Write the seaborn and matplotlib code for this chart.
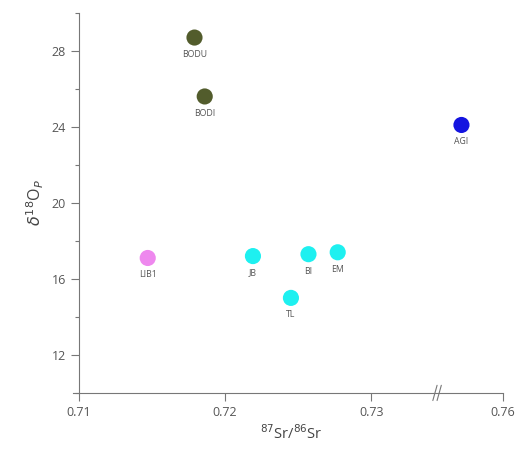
import matplotlib
matplotlib.use("Agg")
import matplotlib.pyplot as plt
import numpy as np
import pandas as pd
import seaborn as sns

sites = ["BODU", "BODI", "AGI", "LIB1", "JB", "BI", "EM", "TL"]
sr_ratio = [0.7179, 0.7186, 0.7423, 0.7147, 0.7219, 0.7257, 0.7277, 0.7245]
d18o = [28.7, 25.6, 24.1, 17.1, 17.2, 17.3, 17.4, 15.0]
groups = ["g1", "g1", "g2", "g3", "g4", "g4", "g4", "g4"]
group_colors = {"g1": "#525c2c", "g2": "#1414e0", "g3": "#ee88ee", "g4": "#1ef0f0"}
x_ticks = [0.71, 0.72, 0.73, 0.76]
y_ticks = [12, 16, 20, 24, 28]

BREAK = 0.735
K = 0.16

def fwd(x):
    x = np.asarray(x, dtype=float)
    return np.where(x <= BREAK, x, BREAK + (x - BREAK) * K)

def inv(x):
    x = np.asarray(x, dtype=float)
    return np.where(x <= BREAK, x, BREAK + (x - BREAK) / K)

df = pd.DataFrame({"site": sites, "sr": sr_ratio, "d18o": d18o, "group": groups})

sns.set_style("white")
plt.rcParams["font.family"] = ["Open Sans", "DejaVu Sans"]

fig = plt.figure(figsize=(5.2, 4.59), dpi=100)
ax = fig.add_axes([0.152, 0.144, 0.815, 0.828])
ax.set_xscale("function", functions=(fwd, inv))

sns.scatterplot(data=df, x="sr", y="d18o", hue="group", palette=group_colors,
                s=135, edgecolor="none", legend=False, ax=ax)

for s, x, y in zip(sites, sr_ratio, d18o):
    ax.annotate(s, (x, y), xytext=(0, -9), textcoords="offset points",
                ha="center", va="top", fontsize=6.3, color="#555555")

ax.set_xlim(0.71, 0.76)
ax.set_ylim(10, 30)
ax.set_xticks(x_ticks)
ax.set_xticklabels([f"{t:.2f}" for t in x_ticks])
ax.set_yticks(y_ticks)
ax.set_yticks([10, 14, 18, 22, 26, 30], minor=True)
ax.tick_params(axis="both", which="major", direction="out", length=6, width=0.8,
               color="#777777", labelcolor="#555555", labelsize=9, bottom=True, left=True)
ax.tick_params(axis="y", which="minor", direction="out", length=3, width=0.8,
               color="#777777", left=True)
ax.xaxis.set_minor_locator(matplotlib.ticker.NullLocator())

for side in ["top", "right"]:
    ax.spines[side].set_visible(False)
for side in ["left", "bottom"]:
    ax.spines[side].set_color("#777777")
    ax.spines[side].set_linewidth(0.8)
ax.spines["bottom"].set_bounds(0.7096, 0.76)

# axis break marks
bx = fwd(0.7345)
bx_ax = (bx - 0.71) / (fwd(0.76) - 0.71)
for dx in (-0.005, 0.005):
    ax.plot([bx_ax + dx - 0.005, bx_ax + dx + 0.005], [-0.02, 0.02],
            transform=ax.transAxes, color="#777777", lw=0.8, clip_on=False)

ax.set_xlabel(r"$^{87}$Sr/$^{86}$Sr", fontsize=10.5, color="#444444")
ax.set_ylabel(r"$\delta^{18}$O$_{P}$", fontsize=11.5, color="#444444")

fig.savefig("out.png", dpi=100)
